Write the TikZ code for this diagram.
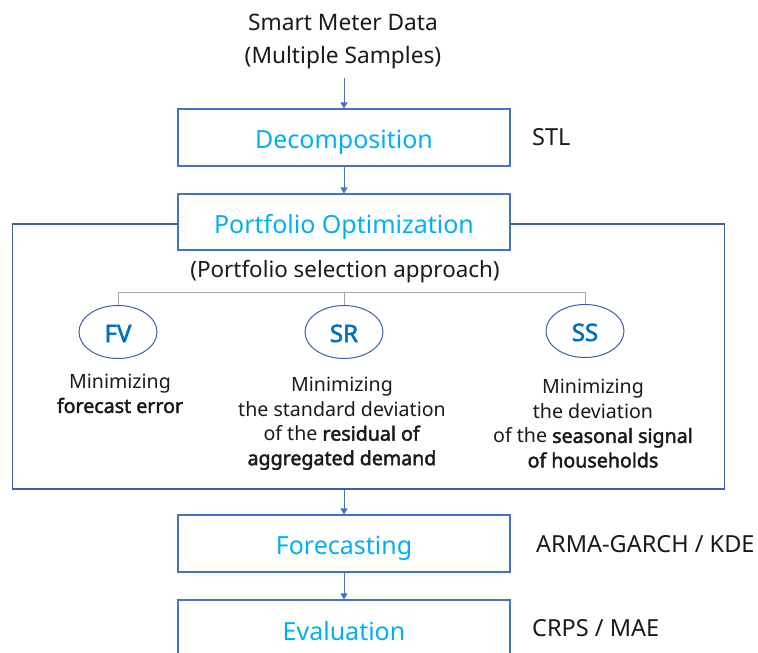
\documentclass[tikz,border=0pt]{standalone}
\usepackage{fontspec}
\setmainfont{Noto Sans}[BoldFont={Noto Sans},BoldFeatures={FakeBold=2.2}]
\usetikzlibrary{arrows.meta,shapes.geometric}
\definecolor{boxblue}{HTML}{4472C4}
\definecolor{frameblue}{HTML}{3F5FA8}
\definecolor{ttlcyan}{HTML}{00B0F0}
\definecolor{ellblue}{HTML}{0070C0}
\definecolor{brkgray}{HTML}{A6A6A6}
\definecolor{txtblack}{HTML}{1A1A1A}
\newcommand\fTop{\fontsize{22.7}{33}\selectfont}
\newcommand\fAppr{\fontsize{22.4}{27}\selectfont}
\newcommand\fTtl{\fontsize{25}{29}\selectfont}
\newcommand\fBody{\fontsize{19.6}{24.5}\selectfont}
\newcommand\fEll{\fontsize{24}{29}\selectfont\bfseries}
\newcommand\fSide{\fontsize{23.5}{27}\selectfont}
\begin{document}
\begin{tikzpicture}[x=1pt,y=-1pt,
  stage/.style={draw=boxblue,line width=1.1pt,fill=white,minimum width=332pt,
    minimum height=57pt,inner sep=0pt,text=ttlcyan,font=\fTtl,
    text height=22pt,text depth=0pt},
  frm/.style={draw=frameblue,line width=1.3pt,minimum width=712pt,minimum height=265pt,inner sep=0pt},
  ell/.style={ellipse,draw=frameblue,line width=1pt,minimum width=78pt,minimum height=53pt,
    inner sep=0pt,text=ellblue,font=\fEll,text height=20pt,text depth=0pt},
  plain/.style={text=txtblack,align=center,inner sep=0pt},
  side/.style={text=txtblack,anchor=west,inner sep=0pt,font=\fSide,text height=17pt,text depth=0pt},
  desc/.style={text=txtblack,align=center,inner sep=0pt,font=\fBody},
  arr/.style={draw=boxblue,line width=0.8pt,-{Triangle[width=7pt,length=6pt]}},
  brk/.style={draw=brkgray,line width=1pt}]
\clip (0,0) rectangle (758,653);
\fill[white] (0,0) rectangle (758,653);

\node[plain,font=\fTop] (src) at (343,41.5) {Smart Meter Data\\(Multiple Samples)};

\node[stage] (dec) at (344,137.5) {Decomposition};
\node[side] (stl) at (532,137) {STL};

\node[frm] (frame) at (368.5,356.5) {};
\node[stage,minimum height=56pt] (po) at (344,222) {Portfolio Optimization};

\node[plain,font=\fAppr] (appr) at (345,272) {(Portfolio selection approach)};

\node[ell] (fv) at (118,332) {FV};
\node[ell] (sr) at (344,332) {SR};
\node[ell] (ss) at (585,331) {SS};

\coordinate (bl) at (116,292.5);
\draw[brk] (fv.north) -- (fv.north |- bl) -- (ss.north |- bl) -- (ss.north);
\draw[brk] (sr.north) -- (sr.north |- bl);

\node[desc] (fvt) at (120,393.5) {Minimizing\\\textbf{forecast error}};
\node[desc] (srt) at (342,423.5) {Minimizing\\the standard deviation\\of the \textbf{residual of}\\\textbf{aggregated demand}};
\node[desc] (sst) at (593,423.5) {Minimizing\\the deviation\\of the \textbf{seasonal signal}\\\textbf{of households}};

\node[stage] (fc) at (344,543.5) {Forecasting};
\node[side] (arma) at (536,544) {ARMA-GARCH / KDE};

\node[stage,minimum height=62pt,text height=19pt] (ev) at (344,631) {Evaluation};
\node[side] (crps) at (532,628) {CRPS / MAE};

\draw[arr] ([yshift=-9pt]src.south -| dec.north) -- (dec.north);
\draw[arr] (dec.south) -- (po.north);
\draw[arr] (frame.south -| fc.north) -- (fc.north);
\draw[arr] (fc.south) -- (ev.north);
\end{tikzpicture}
\end{document}
